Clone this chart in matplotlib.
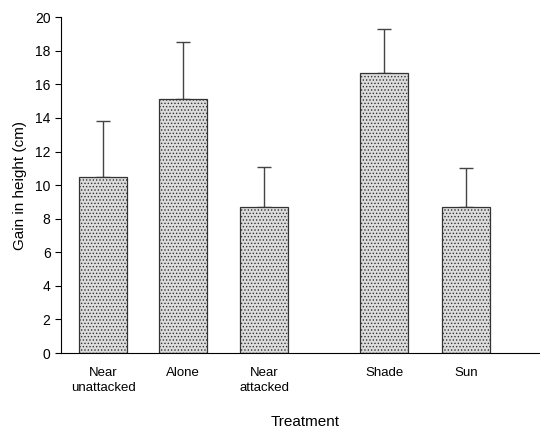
import numpy as np
import matplotlib.pyplot as plt

plt.rcParams['font.family'] = ['Liberation Sans', 'DejaVu Sans']

treatments = ['Near\nunattacked', 'Alone', 'Near\nattacked', 'Shade', 'Sun']
gain = [10.5, 15.1, 8.7, 16.7, 8.7]
upper_err = [3.3, 3.4, 2.4, 2.6, 2.3]
positions = [0, 0.99, 2.01, 3.51, 4.54]

fig = plt.figure(figsize=(5.4, 4.29), dpi=100)
ax = fig.add_axes([0.113, 0.177, 0.887, 0.783])

plt.rcParams['hatch.color'] = '#555555'
plt.rcParams['hatch.linewidth'] = 0.6
bars = ax.bar(positions, gain, width=0.6, color='#dcdcdc', edgecolor='#333333',
              linewidth=0.9, hatch='.....', zorder=2)
lower = np.zeros(len(gain))
ax.errorbar(positions, gain, yerr=[lower, upper_err], fmt='none', ecolor='#444444',
            elinewidth=1.0, capsize=5, capthick=1.0, zorder=1)

ax.set_ylim(0, 20)
ax.set_xlim(-0.53, 5.46)
ax.set_yticks(range(0, 21, 2))
ax.set_xticks(positions)
ax.set_xticklabels(treatments, fontsize=9.5, linespacing=1.3)
ax.tick_params(axis='x', length=0, pad=10)
ax.tick_params(axis='y', labelsize=10, length=4, width=0.8, direction='out')
ax.spines['top'].set_visible(False)
ax.spines['right'].set_visible(False)
ax.spines['left'].set_linewidth(0.8)
ax.spines['bottom'].set_linewidth(0.8)
ax.set_ylabel('Gain in height (cm)', fontsize=11, labelpad=6)
ax.set_xlabel('Treatment', fontsize=11)
ax.xaxis.set_label_coords(0.51, -0.185)

fig.savefig('out.png', dpi=100)
